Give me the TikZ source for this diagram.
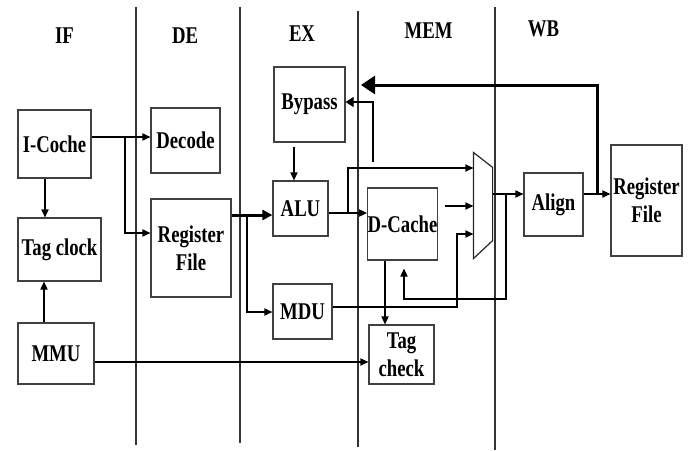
\documentclass[tikz,border=0pt]{standalone}
\usepackage{fontspec}
\setmainfont[FakeStretch=0.78]{Liberation Serif}
\usetikzlibrary{calc,arrows.meta,positioning}

\begin{document}
\begin{tikzpicture}[x=0.5pt,y=-0.5pt,>={Triangle[length=4pt,width=3.6pt]},line width=0.6pt]
	    \tikzstyle{block}=[draw=black!75,inner sep=0pt,align=center,font=\bfseries\fontsize{12}{14}\selectfont]
	    \tikzstyle{stage}=[inner sep=0pt,font=\bfseries\fontsize{12}{14}\selectfont]
	    \tikzstyle{bus}=[line width=1.5pt]
	    
	    \useasboundingbox (0,0) rectangle (689,450);
	    
	    % pipeline stages
	    \foreach \x/\t/\b in {136/7/445, 240/7/443, 358/11/447, 495/7/450}
	        \draw[black!80] (\x,\t) -- (\x,\b);
	    \node[stage] (if) at (64.5,36) {IF};
	    \node[stage] (de) at (185,36) {DE};
	    \node[stage] (ex) at (302,33.5) {EX};
	    \node[stage] (mem) at (428.5,31) {MEM};
	    \node[stage] (wb) at (543.5,29) {WB};
	    
	    % blocks
	    \node[block, minimum width=36.5pt, minimum height=34pt] (icache) at (54.5,144) {I-Coche};
	    \node[block, minimum width=41.5pt, minimum height=31.5pt] (tagclk) at (59.5,249.5) {Tag clock};
	    \node[block, minimum width=38pt, minimum height=30.5pt] (mmu) at (56,353.5) {MMU};
	    \node[block, minimum width=34.5pt, minimum height=32.5pt] (decode) at (185.5,140.5) {Decode};
	    \node[block, minimum width=40pt, minimum height=49pt] (regde) at (191,248) {Register\\File};
	    \node[block, minimum width=35.5pt, minimum height=37.5pt] (bypass) at (309.5,104.5) {Bypass};
	    \node[block, minimum width=27.5pt, minimum height=27.5pt] (alu) at (300.5,208.5) {ALU};
	    \node[block, minimum width=29.5pt, minimum height=27.5pt] (mdu) at (302.5,311.5) {MDU};
	    \node[block, minimum width=34.5pt, minimum height=36pt] (dcache) at (402.5,224) {D-Cache};
	    \node[block, minimum width=32.5pt, minimum height=29.5pt] (tagchk) at (401.5,354.5) {Tag\\check};
	    \node[block, minimum width=29.5pt, minimum height=31.5pt] (align) at (553.5,204.5) {Align};
	    \node[block, minimum width=35.5pt, minimum height=55.5pt] (regwb) at (646.5,200.5) {Register\\File};
	    
	    % mux
	    \node[inner sep=0pt, minimum width=9pt, minimum height=52.5pt] (mux) at (483,205.5) {};
	    \draw[black!85] (mux.north west) -- ([yshift=-7.5pt]mux.north east) -- ([yshift=9pt]mux.south east) -- (mux.south west) -- cycle;
	    
	    % IF
	    \coordinate (fork1) at (125,137);
	    \coordinate (fork2) at (125,233);
	    \coordinate (ic) at (45,0);
	    \coordinate (mm) at (44,0);
	    \coordinate (mmt) at (0,362);
	    \draw[->] (icache.east |- fork1) -- (decode.west |- fork1);
	    \draw[->] (fork1) -- (fork2) -- (regde.west |- fork2);
	    \draw[->] (icache.south -| ic) -- (tagclk.north -| ic);
	    \draw[->] (mmu.north -| mm) -- (tagclk.south -| mm);
	    \draw[->] (mmu.east |- mmt) -- (tagchk.west |- mmt);
	    
	    % DE -> EX
	    \coordinate (rf) at (0,215);
	    \coordinate (fork3) at (247,215);
	    \coordinate (md) at (0,312);
	    \draw[bus,->,>={Triangle[length=5pt,width=5pt]}] (regde.east |- rf) -- (alu.west |- rf);
	    \draw[->] (fork3) |- (mdu.west |- md);
	    
	    % EX
	    \coordinate (bp) at (294,0);
	    \coordinate (ad) at (0,213);
	    \coordinate (fork4) at (348,213);
	    \coordinate (m1) at (0,168);
	    \coordinate (fb) at (373,162);
	    \coordinate (b1) at (0,102);
	    \draw[->] ([yshift=-2pt]bypass.south -| bp) -- (alu.north -| bp);
	    \draw[->] (alu.east |- ad) -- (dcache.west |- ad);
	    \draw[->] (fork4) |- (mux.west |- m1);
	    \draw[->,>={Triangle[length=4pt,width=5pt]}] (fb) |- (bypass.east |- b1);
	    
	    % MEM
	    \coordinate (m2) at (0,206);
	    \coordinate (m3) at (0,234);
	    \coordinate (md2) at (0,307);
	    \coordinate (mx) at (457,0);
	    \coordinate (tc) at (385,0);
	    \draw[->] ([xshift=3.5pt]dcache.east |- m2) -- (mux.west |- m2);
	    \draw[->] (mdu.east |- md2) -| (mx |- m3) -- (mux.west |- m3);
	    \draw[->] (dcache.south -| tc) -- (tagchk.north -| tc);
	    
	    % WB
	    \coordinate (mo) at (0,194);
	    \coordinate (fork5) at (506,194);
	    \coordinate (fork6) at (597,194);
	    \coordinate (dc) at (404,0);
	    \coordinate (lp) at (0,299);
	    \coordinate (back) at (361,85);
	    \draw[->] (mux.east |- mo) -- (align.west |- mo);
	    \draw[->] (fork5) |- (dc |- lp) -- ([yshift=-4pt]dcache.south -| dc);
	    \draw[->] (align.east |- mo) -- (regwb.west |- mo);
	    \draw[bus,->,>={Triangle[length=7pt,width=9pt]}] (fork6) |- (back);
    
\end{tikzpicture}
\end{document}
